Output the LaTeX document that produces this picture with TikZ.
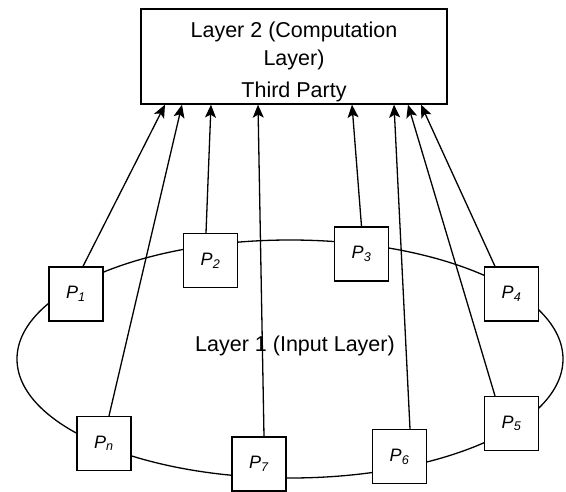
\documentclass[tikz,border=0pt]{standalone}
\usepackage{fontspec}
\setmainfont{Liberation Sans}
\usetikzlibrary{arrows.meta, calc}

\begin{document}
\begin{tikzpicture}[
  x=1pt, y=-1pt,
  party/.style={rectangle, draw, fill=white, minimum size=54pt,
    inner sep=0pt, line width=1.3pt,
    font=\fontsize{18}{20}\selectfont\itshape},
  layerbox/.style={rectangle, draw, minimum width=306pt,
    minimum height=95pt, line width=1.3pt},
  arrow/.style={-{Stealth[length=13pt, width=11pt, inset=3pt]},
    line width=1.3pt}
]
\useasboundingbox (0,0) rectangle (566,491);

% input layer ring
\draw[line width=1.3pt] (290,359) ellipse [x radius=273pt, y radius=119pt];
\node (inputlayer) at (295,346) [font=\fontsize{21.5}{26}\selectfont]
  {Layer 1 (Input Layer)};

% computation layer
\node (thirdparty) at (294,56.5) [layerbox] {};
\node (layertwo) at ([yshift=-5pt]thirdparty.center) [align=center,
  font=\fontsize{21.5}{28}\selectfont]
  {Layer 2 (Computation\\Layer)\\[4pt]Third Party};

% parties
\node (p1) at (76,294)    [party] {P\textsubscript{1}};
\node (p2) at (210.5,260.5) [party] {P\textsubscript{2}};
\node (p3) at (361.5,254) [party] {P\textsubscript{3}};
\node (p4) at (511.5,294) [party] {P\textsubscript{4}};
\node (p5) at (511.5,423.5) [party] {P\textsubscript{5}};
\node (p6) at (399.5,456.5) [party] {P\textsubscript{6}};
\node (p7) at (259,464)   [party] {P\textsubscript{7}};
\node (pn) at (104,443.5) [party] {P\textsubscript{n}};

\draw[arrow] ([xshift=7pt]p1.north)     -- ([xshift=-129pt]thirdparty.south);
\draw[arrow] ([xshift=5pt]pn.north)     -- ([xshift=-112pt]thirdparty.south);
\draw[arrow] ([xshift=-4.5pt]p2.north)  -- ([xshift=-83pt]thirdparty.south);
\draw[arrow] ([xshift=5pt]p7.north)     -- ([xshift=-36pt]thirdparty.south);
\draw[arrow] (p3.north)                 -- ([xshift=58pt]thirdparty.south);
\draw[arrow] ([xshift=10.5pt]p6.north)  -- ([xshift=100pt]thirdparty.south);
\draw[arrow] ([xshift=-16.5pt]p5.north) -- ([xshift=114pt]thirdparty.south);
\draw[arrow] ([xshift=-16.5pt]p4.north) -- ([xshift=127pt]thirdparty.south);

\end{tikzpicture}
\end{document}
